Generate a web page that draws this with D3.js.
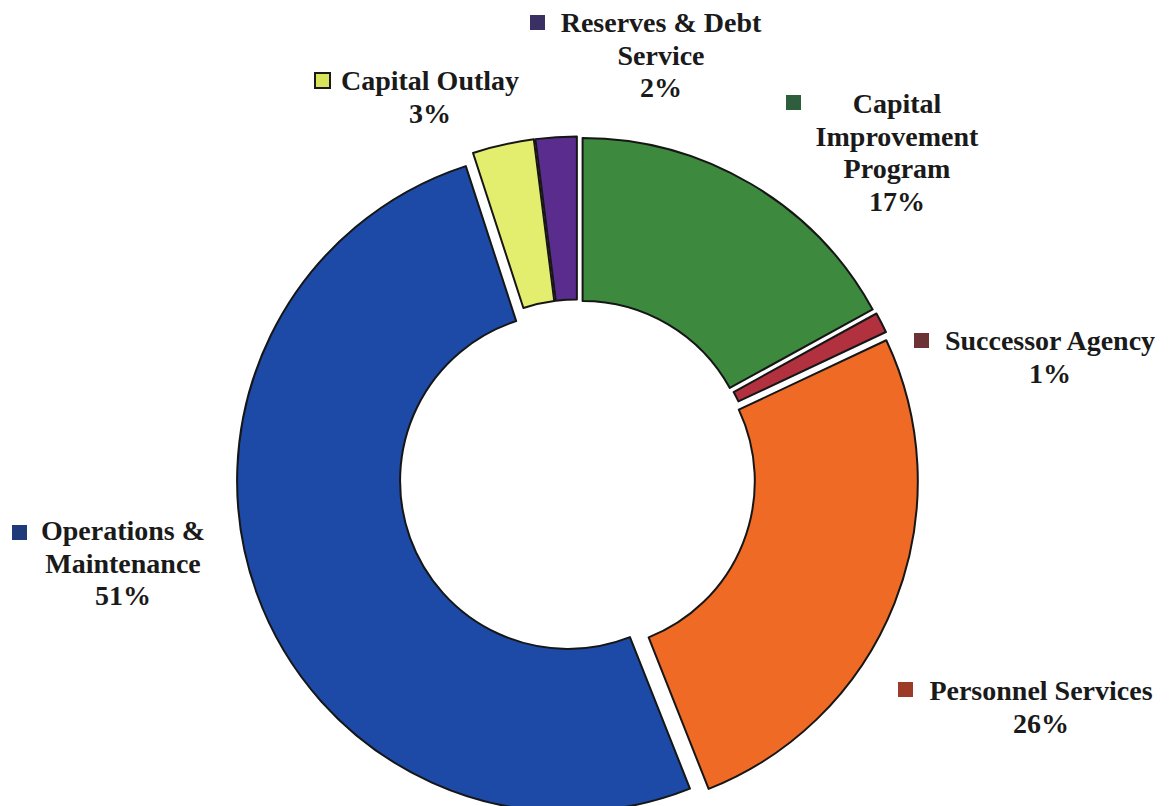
<!DOCTYPE html>
<html>
<head>
<meta charset="utf-8">
<script src="https://cdn.jsdelivr.net/npm/d3@7"></script>
<style>
  html, body { margin: 0; padding: 0; background: #fff; }
  svg text { font-family: "Liberation Serif", "DejaVu Serif", serif; font-weight: bold; fill: #1a1a1a; }
</style>
</head>
<body>
<svg id="chart" width="1169" height="806"></svg>
<script>
// Budget breakdown by category, in percent, clockwise from twelve o'clock
const categories = [
  "Capital Improvement Program",
  "Successor Agency",
  "Personnel Services",
  "Operations & Maintenance",
  "Capital Outlay",
  "Reserves & Debt Service"
];
const values = [17, 1, 26, 51, 3, 2];
const sliceColors = ["#3d8a3f", "#b2313f", "#ee6a25", "#1c4aa6", "#e4ee6e", "#5a2c8e"];
const keyColors = ["#2f5e3d", "#6d3236", "#9c3b26", "#1f3a78", "#d8e45a", "#3b3063"];
// Label lines for each category (the last line carries the percentage)
const labelLines = [
  ["Capital", "Improvement", "Program"],
  ["Successor Agency"],
  ["Personnel Services"],
  ["Operations &", "Maintenance"],
  ["Capital Outlay"],
  ["Reserves & Debt", "Service"]
];

const svg = d3.select("#chart");
const cx = 577.5, cy = 477.5;
const outerR = 331, innerR = 168, explode = 10;

const pie = d3.pie().sort(null).value(d => d).startAngle(0).endAngle(2 * Math.PI);
const arc = d3.arc().innerRadius(innerR).outerRadius(outerR);
const arcs = pie(values);

const g = svg.append("g").attr("transform", `translate(${cx},${cy})`);
g.selectAll("path.slice")
  .data(arcs)
  .join("path")
  .attr("class", "slice")
  .attr("d", arc)
  .attr("fill", (d, i) => sliceColors[i])
  .attr("stroke", "#161616")
  .attr("stroke-width", 2)
  .attr("stroke-linejoin", "round")
  .attr("transform", d => {
    const a = (d.startAngle + d.endAngle) / 2;
    return `translate(${explode * Math.sin(a)},${-explode * Math.cos(a)})`;
  });

// Label placement: centre x of the text block, baseline of first line, key square position
const labelLayout = [
  { x: 897, y: 113, kx: 786, ky: 95 },
  { x: 1050, y: 350, kx: 914, ky: 333 },
  { x: 1041, y: 700, kx: 898, ky: 682 },
  { x: 123, y: 540, kx: 12, ky: 525 },
  { x: 430, y: 90, kx: 315, ky: 73 },
  { x: 661, y: 32, kx: 530, ky: 15 }
];
const fontSize = 28, lineH = 32.5;

const labels = svg.append("g");
categories.forEach((c, i) => {
  const L = labelLayout[i];
  const lines = labelLines[i].concat([values[i] + "%"]);
  const t = labels.append("text")
    .attr("text-anchor", "middle")
    .attr("font-size", fontSize);
  lines.forEach((ln, j) => {
    t.append("tspan").attr("x", L.x).attr("y", L.y + j * lineH).text(ln);
  });
  labels.append("rect")
    .attr("x", L.kx).attr("y", L.ky)
    .attr("width", 15).attr("height", 15)
    .attr("fill", keyColors[i])
    .attr("stroke", i === 4 ? "#1a1a1a" : "none")
    .attr("stroke-width", i === 4 ? 2 : 0);
});
</script>
</body>
</html>
